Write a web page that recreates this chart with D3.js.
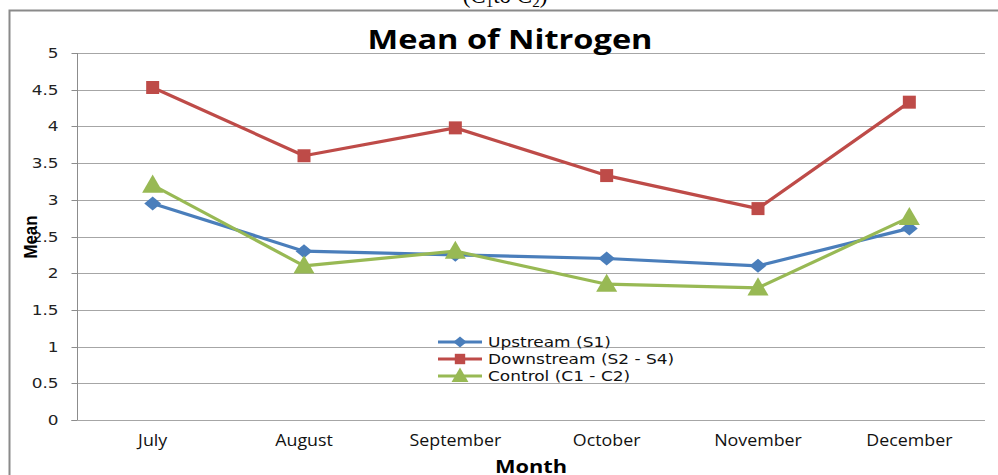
<!DOCTYPE html>
<html><head><meta charset="utf-8">
<script src="https://cdn.jsdelivr.net/npm/d3@7"></script>
<style>html,body{margin:0;padding:0;background:#fff;overflow:hidden}</style>
</head><body>
<svg id="c" width="998" height="475"></svg>
<script>
const months = ["July","August","September","October","November","December"];
const upstream = [2.95, 2.30, 2.25, 2.20, 2.10, 2.61];
const downstream = [4.53, 3.60, 3.98, 3.33, 2.88, 4.33];
const control = [3.20, 2.10, 2.30, 1.85, 1.80, 2.76];
const yTicks = [0, 0.5, 1, 1.5, 2, 2.5, 3, 3.5, 4, 4.5, 5];
const seriesNames = ["Upstream (S1)", "Downstream (S2 - S4)", "Control (C1 - C2)"];
const seriesColors = ["#4A7EBB", "#BE4B48", "#98B954"];
const seriesShapes = ["diamond", "square", "triangle"];
const seriesValues = [upstream, downstream, control];

const svg = d3.select("#c");
const L = 77, R = 985, T = 53, B = 420;
const x = d3.scaleBand().domain(months).range([L, R]).padding(0);
const y = d3.scaleLinear().domain([0, 5]).range([B, T]);

function stretch(sel, k) {
  sel.each(function(){ const w = this.getComputedTextLength(); d3.select(this).attr("textLength", w*k).attr("lengthAdjust","spacingAndGlyphs"); });
}
function fitTo(sel, w) { sel.attr("textLength", w).attr("lengthAdjust","spacingAndGlyphs"); }

function markerPath(shape, s) {
  if (shape === "diamond") return `M0,${-s*0.5}L${s*0.6},0L0,${s*0.5}L${-s*0.6},0Z`;
  if (shape === "square") return `M${-s*0.5},${-s*0.5}h${s}v${s}h${-s}Z`;
  return `M0,${-s*0.62}L${s*0.62},${s*0.45}L${-s*0.62},${s*0.45}Z`;
}

// frame
svg.append("rect").attr("x",9.5).attr("y",10.5).attr("width",1000).attr("height",500)
  .attr("fill","none").attr("stroke","#8a8a8a").attr("stroke-width",2);

// clipped caption at top
const cap = svg.append("text").attr("x",505).attr("y",3).attr("text-anchor","middle")
  .attr("font-family","Liberation Serif, serif").attr("font-size",23).attr("fill","#000");
cap.append("tspan").text("(C");
cap.append("tspan").attr("font-size",15).attr("dy",4).text("1");
cap.append("tspan").attr("dy",-4).text("to C");
cap.append("tspan").attr("font-size",15).attr("dy",4).text("2");
cap.append("tspan").attr("dy",-4).text(")");

// gridlines
svg.append("g").selectAll("line").data(yTicks.filter(d=>d>0)).join("line")
  .attr("x1",L).attr("x2",R).attr("y1",d=>Math.round(y(d))+0.5).attr("y2",d=>Math.round(y(d))+0.5)
  .attr("stroke","#a6a6a6").attr("stroke-width",1);

// y axis
const yAxis = svg.append("g").attr("transform",`translate(${L+0.5},0)`)
  .call(d3.axisLeft(y).tickValues(yTicks).tickSize(6).tickPadding(13).tickFormat(d3.format("")));
yAxis.select(".domain").attr("stroke","#8c8c8c").attr("d",`M-6,${B+0.5}H0V${T}`);
yAxis.selectAll(".tick line").attr("stroke","#8c8c8c");
yAxis.selectAll(".tick").attr("transform", d=>`translate(0,${Math.round(y(d))+0.5})`);
yAxis.selectAll("text").attr("font-family","DejaVu Sans").attr("font-size",13.5).attr("fill","#222").attr("dy","0.36em");
stretch(yAxis.selectAll("text"), 1.25);

// x axis
const xAxis = svg.append("g").attr("transform",`translate(0,${B+0.5})`)
  .call(d3.axisBottom(x).tickSize(0).tickPadding(21));
xAxis.select(".domain").attr("stroke","#a6a6a6").attr("d",`M${L},0H${R}`);
xAxis.selectAll("text").attr("font-family","Open Sans").attr("font-size",15.5).attr("fill","#111").attr("dy","0.3em");
stretch(xAxis.selectAll("text"), 1.15);

// titles
const title = svg.append("text").attr("x",510).attr("y",49).attr("text-anchor","middle")
  .attr("font-family","Open Sans").attr("font-weight",700).attr("font-size",26).attr("fill","#000").text("Mean of Nitrogen");
fitTo(title, 285);
const xt = svg.append("text").attr("x",531).attr("y",473).attr("text-anchor","middle")
  .attr("font-family","Open Sans").attr("font-weight",700).attr("font-size",18).attr("fill","#000").text("Month");
fitTo(xt, 72);
const yt = svg.append("text").attr("transform","translate(37,237) rotate(-90)").attr("text-anchor","middle")
  .attr("font-family","Liberation Sans").attr("font-weight",700).attr("font-size",18).attr("fill","#000").text("Mean");
fitTo(yt, 43);

// series
const line = d3.line().x((d,i)=>x(months[i])+x.bandwidth()/2).y(d=>y(d));
const sizes = [14, 13, 17];
seriesValues.forEach((vals, si) => {
  const g = svg.append("g");
  g.append("path").datum(vals).attr("d", line).attr("fill","none")
    .attr("stroke", seriesColors[si]).attr("stroke-width",3.2).attr("stroke-linejoin","round");
  g.selectAll("path.m").data(vals).join("path").attr("class","m")
    .attr("transform",(d,i)=>`translate(${x(months[i])+x.bandwidth()/2},${y(d)})`)
    .attr("d", markerPath(seriesShapes[si], sizes[si]))
    .attr("fill", seriesColors[si]);
});

// legend
const lg = svg.append("g");
seriesNames.forEach((name, si) => {
  const yy = 342 + si*17;
  lg.append("line").attr("x1",438).attr("x2",482).attr("y1",yy).attr("y2",yy)
    .attr("stroke",seriesColors[si]).attr("stroke-width",3);
  lg.append("path").attr("transform",`translate(460,${yy})`)
    .attr("d", markerPath(seriesShapes[si], sizes[si]*0.8)).attr("fill",seriesColors[si]);
  const t = lg.append("text").attr("x",488).attr("y",yy).attr("dy","0.35em")
    .attr("font-family","DejaVu Sans").attr("font-size",14.5).attr("fill","#111").text(name);
  stretch(t, 1.17);
});
</script>
</body></html>
